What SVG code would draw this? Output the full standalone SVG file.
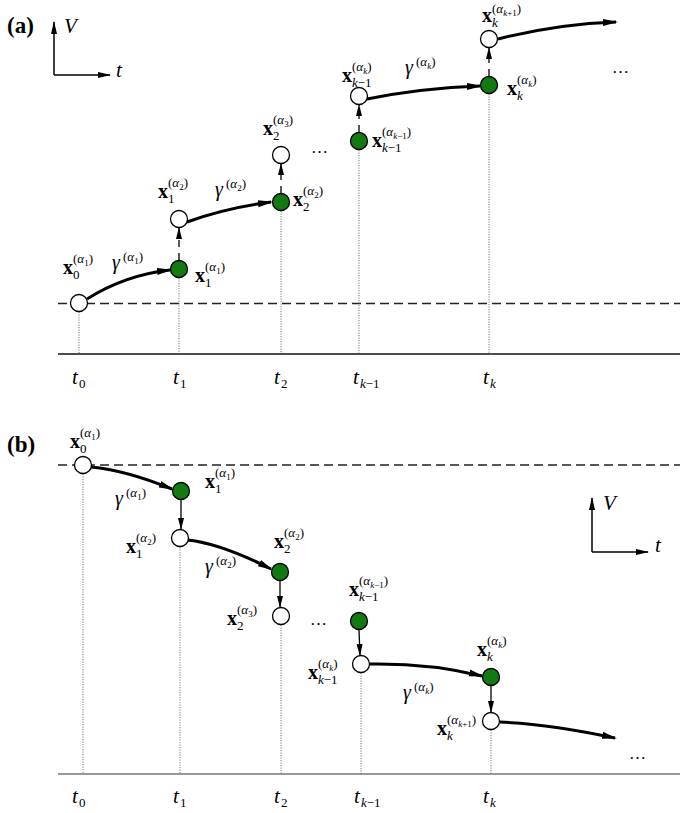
<svg xmlns="http://www.w3.org/2000/svg" width="680" height="813" viewBox="0 0 680 813" font-family="'Liberation Serif', serif">
<style>
text{font-family:'Liberation Serif',serif;fill:#000}
.pl{font-weight:bold;font-size:23px}
.xb{font-weight:bold;font-size:20px}
.sb{font-size:13px}
.sp{font-size:13px}
.ss{font-size:9px}
.it{font-style:italic}
.ax{font-style:italic;font-size:21px}
.g{font-style:italic;font-size:20px}
.dots{font-size:17px}
.nw{fill:#fff;stroke:#000;stroke-width:1.3}
.ng{fill:#137a13;stroke:#000;stroke-width:1.3}
.dot{stroke:#555;stroke-width:0.8;stroke-dasharray:1.2 1.3;fill:none}
.dash{stroke:#222;stroke-width:1.3;stroke-dasharray:9 5;fill:none}
.base{stroke:#111;stroke-width:1.3;fill:none}
.baseb{stroke:#777;stroke-width:1.6;fill:none}
.cur{stroke:#000;stroke-width:3;fill:none;marker-end:url(#ah)}
.vd{stroke:#000;stroke-width:1.3;stroke-dasharray:7 6;fill:none;marker-end:url(#ahs)}
.vs{stroke:#000;stroke-width:1.3;fill:none;marker-end:url(#ahs)}
.axl{stroke:#000;stroke-width:1.5;fill:none;marker-end:url(#aha)}
</style>
<defs>
<marker id="ah" markerUnits="userSpaceOnUse" markerWidth="16" markerHeight="8" refX="13" refY="4" orient="auto"><path d="M0,0.5 L15,4 L0,7.5 z" fill="#000"/></marker>
<marker id="ahs" markerUnits="userSpaceOnUse" markerWidth="12" markerHeight="8" refX="11" refY="3.5" orient="auto"><path d="M0,0.5 L12,3.5 L0,6.5 z" fill="#000"/></marker>
<marker id="aha" markerUnits="userSpaceOnUse" markerWidth="14" markerHeight="8" refX="12" refY="3.5" orient="auto"><path d="M0,0.5 L13,3.5 L0,6.5 z" fill="#000"/></marker>
</defs>

<!-- Panel (a) -->
<g id="panel-a-frame">
<text class="pl" x="7" y="33">(a)</text>
<path class="axl" d="M54,75 L54,22"/>
<path class="axl" d="M54,75 L110,75"/>
<text class="ax" x="64" y="33">V</text>
<text class="ax" x="116" y="77">t</text>
<path class="dash" d="M58,303.5 H680"/>
<path class="base" d="M58,354 H680"/>
<text class="ax" x="72" y="384">t</text><text class="sb" x="79" y="388">0</text>
<text class="ax" x="173" y="384">t</text><text class="sb" x="180" y="388">1</text>
<text class="ax" x="274" y="384">t</text><text class="sb" x="281" y="388">2</text>
<text class="ax" x="353" y="384">t</text><text class="sb" x="360" y="388"><tspan class="it">k</tspan>−1</text>
<text class="ax" x="483" y="384">t</text><text class="sb it" x="490" y="388">k</text>
<text class="dots" x="311" y="153">…</text>
<text class="dots" x="612" y="73">…</text>
</g>

<g id="connectors-a">
<path class="dot" d="M79,312 V354"/>
<path class="dot" d="M179,278 V354"/>
<path class="dot" d="M281,211 V354"/>
<path class="dot" d="M359,150 V354"/>
<path class="dot" d="M489,94 V354"/>
<path class="cur" d="M87,299 Q125,275 170,270"/>
<path class="cur" d="M187,222 Q225,208 271,202"/>
<path class="cur" d="M367,99 Q422,88 480,86"/>
<path class="cur" d="M498,39 Q557,24 616,22"/>
<path class="vd" d="M179,260 V228"/>
<path class="vd" d="M281,193 V164"/>
<path class="vd" d="M359,132 V105"/>
<path class="vd" d="M489,76 V48"/>
<text class="g" x="112" y="269">γ</text><text class="sp" x="123" y="261">(<tspan class="it">α</tspan><tspan class="ss" dy="3">1</tspan><tspan dy="-3">)</tspan></text>
<text class="g" x="215" y="196">γ</text><text class="sp" x="226" y="188">(<tspan class="it">α</tspan><tspan class="ss" dy="3">2</tspan><tspan dy="-3">)</tspan></text>
<text class="g" x="405" y="74">γ</text><text class="sp" x="416" y="66">(<tspan class="it">α</tspan><tspan class="ss it" dy="3">k</tspan><tspan dy="-3">)</tspan></text>
</g>

<g id="a-x0">
<circle class="nw" cx="79" cy="303" r="8.5"/>
<text class="xb" x="63" y="274">x</text><text class="sb" x="73" y="279">0</text>
<text class="sp" x="73" y="263">(<tspan class="it">α</tspan><tspan class="ss" dy="3">1</tspan><tspan dy="-3">)</tspan></text>
</g>
<g id="a-x1g">
<circle class="ng" cx="179" cy="269" r="8.5"/>
<text class="xb" x="195" y="282">x</text><text class="sb" x="205" y="287">1</text>
<text class="sp" x="205" y="271">(<tspan class="it">α</tspan><tspan class="ss" dy="3">1</tspan><tspan dy="-3">)</tspan></text>
</g>
<g id="a-x1w">
<circle class="nw" cx="179" cy="219" r="8.5"/>
<text class="xb" x="158" y="198">x</text><text class="sb" x="168" y="203">1</text>
<text class="sp" x="168" y="187">(<tspan class="it">α</tspan><tspan class="ss" dy="3">2</tspan><tspan dy="-3">)</tspan></text>
</g>
<g id="a-x2g">
<circle class="ng" cx="281" cy="202" r="8.5"/>
<text class="xb" x="293" y="206">x</text><text class="sb" x="303" y="211">2</text>
<text class="sp" x="303" y="195">(<tspan class="it">α</tspan><tspan class="ss" dy="3">2</tspan><tspan dy="-3">)</tspan></text>
</g>
<g id="a-x2w">
<circle class="nw" cx="281" cy="155" r="8.5"/>
<text class="xb" x="263" y="135">x</text><text class="sb" x="273" y="140">2</text>
<text class="sp" x="273" y="124">(<tspan class="it">α</tspan><tspan class="ss" dy="3">3</tspan><tspan dy="-3">)</tspan></text>
</g>
<g id="a-xk1g">
<circle class="ng" cx="359" cy="141" r="8.5"/>
<text class="xb" x="372" y="147">x</text><text class="sb" x="382" y="152"><tspan class="it">k</tspan>−1</text>
<text class="sp" x="382" y="136">(<tspan class="it">α</tspan><tspan class="ss" dy="3"><tspan class="it">k</tspan>−1</tspan><tspan dy="-3">)</tspan></text>
</g>
<g id="a-xk1w">
<circle class="nw" cx="359" cy="96" r="8.5"/>
<text class="xb" x="342" y="82">x</text><text class="sb" x="352" y="87"><tspan class="it">k</tspan>−1</text>
<text class="sp" x="352" y="71">(<tspan class="it">α</tspan><tspan class="ss it" dy="3">k</tspan><tspan dy="-3">)</tspan></text>
</g>
<g id="a-xkg">
<circle class="ng" cx="489" cy="85" r="8.5"/>
<text class="xb" x="507" y="95">x</text><text class="sb it" x="517" y="100">k</text>
<text class="sp" x="517" y="84">(<tspan class="it">α</tspan><tspan class="ss it" dy="3">k</tspan><tspan dy="-3">)</tspan></text>
</g>
<g id="a-xkw">
<circle class="nw" cx="489" cy="39" r="8.5"/>
<text class="xb" x="482" y="22">x</text><text class="sb it" x="492" y="27">k</text>
<text class="sp" x="492" y="13">(<tspan class="it">α</tspan><tspan class="ss" dy="3"><tspan class="it">k</tspan>+1</tspan><tspan dy="-3">)</tspan></text>
</g>

<!-- Panel (b) -->
<g id="panel-b-frame">
<text class="pl" x="7" y="452">(b)</text>
<path class="axl" d="M592,552 L592,498"/>
<path class="axl" d="M592,552 L648,552"/>
<text class="ax" x="603" y="510">V</text>
<text class="ax" x="655" y="552">t</text>
<path class="dash" d="M58,465 H680"/>
<path class="baseb" d="M58,774 H680"/>
<text class="ax" x="72" y="803">t</text><text class="sb" x="79" y="807">0</text>
<text class="ax" x="173" y="803">t</text><text class="sb" x="180" y="807">1</text>
<text class="ax" x="274" y="803">t</text><text class="sb" x="281" y="807">2</text>
<text class="ax" x="354" y="803">t</text><text class="sb" x="361" y="807"><tspan class="it">k</tspan>−1</text>
<text class="ax" x="483" y="803">t</text><text class="sb it" x="490" y="807">k</text>
<text class="dots" x="310" y="625">…</text>
<text class="dots" x="629" y="759">…</text>
</g>

<g id="connectors-b">
<path class="dot" d="M83,474 V774"/>
<path class="dot" d="M180,547 V774"/>
<path class="dot" d="M281,625 V774"/>
<path class="dot" d="M361,673 V774"/>
<path class="dot" d="M491,730 V774"/>
<path class="cur" d="M91,467 Q125,470 172,489"/>
<path class="cur" d="M188,540 Q222,544 271,569"/>
<path class="cur" d="M370,664 Q430,663 482,676"/>
<path class="cur" d="M500,722 Q550,724 615,738"/>
<path class="vs" d="M181,500 V529"/>
<path class="vs" d="M280,581 V607"/>
<path class="vs" d="M359,630 L360,655"/>
<path class="vs" d="M491,686 V712"/>
<text class="g" x="115" y="505">γ</text><text class="sp" x="126" y="497">(<tspan class="it">α</tspan><tspan class="ss" dy="3">1</tspan><tspan dy="-3">)</tspan></text>
<text class="g" x="205" y="573">γ</text><text class="sp" x="216" y="565">(<tspan class="it">α</tspan><tspan class="ss" dy="3">2</tspan><tspan dy="-3">)</tspan></text>
<text class="g" x="403" y="699">γ</text><text class="sp" x="414" y="691">(<tspan class="it">α</tspan><tspan class="ss it" dy="3">k</tspan><tspan dy="-3">)</tspan></text>
</g>

<g id="b-x0">
<circle class="nw" cx="83" cy="465" r="8.5"/>
<text class="xb" x="70" y="448">x</text><text class="sb" x="80" y="453">0</text>
<text class="sp" x="80" y="437">(<tspan class="it">α</tspan><tspan class="ss" dy="3">1</tspan><tspan dy="-3">)</tspan></text>
</g>
<g id="b-x1g">
<circle class="ng" cx="181" cy="491" r="8.5"/>
<text class="xb" x="205" y="488">x</text><text class="sb" x="215" y="493">1</text>
<text class="sp" x="215" y="477">(<tspan class="it">α</tspan><tspan class="ss" dy="3">1</tspan><tspan dy="-3">)</tspan></text>
</g>
<g id="b-x1w">
<circle class="nw" cx="180" cy="538" r="8.5"/>
<text class="xb" x="126" y="553">x</text><text class="sb" x="136" y="558">1</text>
<text class="sp" x="136" y="542">(<tspan class="it">α</tspan><tspan class="ss" dy="3">2</tspan><tspan dy="-3">)</tspan></text>
</g>
<g id="b-x2g">
<circle class="ng" cx="280" cy="572" r="8.5"/>
<text class="xb" x="274" y="548">x</text><text class="sb" x="284" y="553">2</text>
<text class="sp" x="284" y="537">(<tspan class="it">α</tspan><tspan class="ss" dy="3">2</tspan><tspan dy="-3">)</tspan></text>
</g>
<g id="b-x2w">
<circle class="nw" cx="281" cy="616" r="8.5"/>
<text class="xb" x="227" y="625">x</text><text class="sb" x="237" y="630">2</text>
<text class="sp" x="237" y="614">(<tspan class="it">α</tspan><tspan class="ss" dy="3">3</tspan><tspan dy="-3">)</tspan></text>
</g>
<g id="b-xk1g">
<circle class="ng" cx="359" cy="621" r="8.5"/>
<text class="xb" x="349" y="596">x</text><text class="sb" x="359" y="601"><tspan class="it">k</tspan>−1</text>
<text class="sp" x="359" y="585">(<tspan class="it">α</tspan><tspan class="ss" dy="3"><tspan class="it">k</tspan>−1</tspan><tspan dy="-3">)</tspan></text>
</g>
<g id="b-xk1w">
<circle class="nw" cx="361" cy="664" r="8.5"/>
<text class="xb" x="308" y="679">x</text><text class="sb" x="318" y="684"><tspan class="it">k</tspan>−1</text>
<text class="sp" x="318" y="668">(<tspan class="it">α</tspan><tspan class="ss it" dy="3">k</tspan><tspan dy="-3">)</tspan></text>
</g>
<g id="b-xkg">
<circle class="ng" cx="491" cy="677" r="8.5"/>
<text class="xb" x="477" y="656">x</text><text class="sb it" x="487" y="661">k</text>
<text class="sp" x="487" y="645">(<tspan class="it">α</tspan><tspan class="ss it" dy="3">k</tspan><tspan dy="-3">)</tspan></text>
</g>
<g id="b-xkw">
<circle class="nw" cx="491" cy="721" r="8.5"/>
<text class="xb" x="437" y="735">x</text><text class="sb it" x="447" y="740">k</text>
<text class="sp" x="447" y="724">(<tspan class="it">α</tspan><tspan class="ss" dy="3"><tspan class="it">k</tspan>+1</tspan><tspan dy="-3">)</tspan></text>
</g>
</svg>
